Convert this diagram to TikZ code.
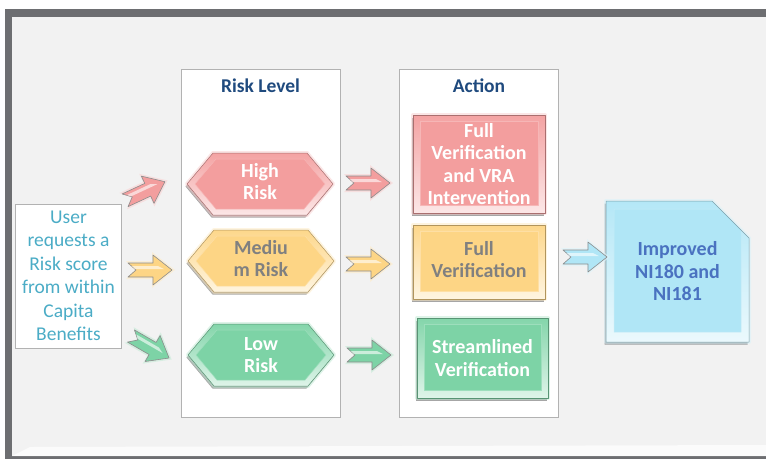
\documentclass[tikz,border=0pt]{standalone}
\usepackage{fontspec}
\setmainfont{Carlito}
\usetikzlibrary{shapes.symbols,shapes.misc,shadows}

\definecolor{rahmen}{HTML}{6D6E71}
\definecolor{grund}{HTML}{F2F2F2}
\definecolor{rotton}{HTML}{F39E9E}
\definecolor{gelbton}{HTML}{FDD585}
\definecolor{gruenton}{HTML}{7DD3A6}
\definecolor{blauton}{HTML}{B0E6F6}
\definecolor{titelblau}{HTML}{1F4A7E}
\definecolor{userblau}{HTML}{4BACC6}
\definecolor{nitext}{HTML}{4A72C0}

\newcommand\textoben[2]{\raisebox{#1}{\begin{tabular}{@{}c@{}}#2\end{tabular}}}

\tikzset{
	schrift/.style={font=\bfseries\fontsize{20}{22.5}\selectfont,align=center},
	spalte/.style={draw=black!30,fill=white,minimum width=159pt,minimum height=348pt,inner sep=0pt},
	titel/.style={font=\bfseries\fontsize{19.5}{22}\selectfont,text=titelblau},
	facette/.style={top color=#1!95!white,bottom color=#1!25!white,draw=#1!70!black,line width=0.5pt,line join=round,
		drop shadow={shadow xshift=-1.5pt,shadow yshift=-2.5pt,fill=black,opacity=0.35},
		preaction={draw=#1!50!white,line width=4pt,opacity=0.5}},
	stufe/.style={signal,signal to=east and west,signal pointer angle=100,minimum width=146pt,minimum height=62pt,inner sep=0pt,facette=#1,schrift,
		path picture={\fill[#1,draw=white!25!#1] ([xshift=8pt]path picture bounding box.west) -- ([xshift=29pt,yshift=-6pt]path picture bounding box.north west) -- ([xshift=-29pt,yshift=-6pt]path picture bounding box.north east) -- ([xshift=-8pt]path picture bounding box.east) -- ([xshift=-29pt,yshift=6pt]path picture bounding box.south east) -- ([xshift=29pt,yshift=6pt]path picture bounding box.south west) -- cycle;}},
	kasten/.style={rectangle,inner sep=0pt,facette=#1,schrift,
		path picture={\fill[#1,draw=white!25!#1] ([xshift=7pt,yshift=8pt]path picture bounding box.south west) rectangle ([xshift=-7pt,yshift=-6pt]path picture bounding box.north east);}},
	pics/pfeil/.style={code={
		\fill[#1!45!white,opacity=0.6,line join=round] (-24,-9) -- (2,-9) -- (2,-18) -- (25,0) -- (2,18) -- (2,9) -- (-24,9) -- (-15,0) -- cycle;
		\filldraw[fill=#1,draw=black!45,line width=0.6pt,line join=round] (-22,-7) -- (3,-7) -- (3,-15) -- (22,0) -- (3,15) -- (3,7) -- (-22,7) -- (-14,0) -- cycle;
		\fill[white,opacity=0.6] (-18,-4) -- (8,-4) -- (14,-1) -- (-15,-1) -- cycle;
	}}
}

\begin{document}
\begin{tikzpicture}[x=1pt,y=-1pt]
	\useasboundingbox (0,0) rectangle (766,459);
	%Rahmen
	\fill[white] (0,0) rectangle (766,459);
	\fill[rahmen] (5,9) rectangle (766,459);
	\fill[grund] (12,17) rectangle (766,456);
	\fill[white,opacity=0.7] (12,456) -- (30,447) -- (766,445) -- (766,456) -- cycle;
	%Spalten
	\node[spalte] (risk) at (260.5,243) {};
	\node[spalte] (action) at (479,243) {};
	\node[titel] (risktitel) at (260.5,86) {Risk Level};
	\node[titel] (actiontitel) at (479,86) {Action};
	%Anfrage
	\node[draw=black!30,fill=white,minimum width=106pt,minimum height=144pt,inner sep=0pt,text=userblau,font=\fontsize{19.5}{23.5}\selectfont,align=center] (user) at (68.5,276) {User\\requests a\\Risk score\\from within\\Capita\\Benefits};
	%Risikostufen
	\node[stufe=rotton,text=white] (high) at (260,184) {\textoben{6pt}{High\\Risk}};
	\node[stufe=gelbton,text=black!50] (medium) at (261,261) {\textoben{3pt}{Mediu\\m Risk}};
	\node[stufe=gruenton,text=white] (low) at (261,355) {Low\\Risk};
	%Massnahmen
	\node[kasten=rotton,text=white,minimum width=132pt,minimum height=98pt] (fullvra) at (479,164) {Full\\Verification\\and VRA\\Intervention};
	\node[kasten=gelbton,text=black!50,minimum width=132pt,minimum height=74pt] (fullver) at (479,262) {\textoben{11pt}{Full\\Verification}};
	\node[kasten=gruenton,text=white,minimum width=131pt,minimum height=80pt] (stream) at (482.5,358) {Streamlined\\Verification};
	%Ergebnis
	\node[chamfered rectangle,chamfered rectangle corners=north east,chamfered rectangle xsep=16pt,chamfered rectangle ysep=21pt,minimum width=143pt,minimum height=141pt,inner sep=0pt,facette=blauton,schrift,text=nitext,
		path picture={\fill[blauton,draw=white!25!blauton] ([xshift=8pt,yshift=10pt]path picture bounding box.south west) -- ([xshift=8pt,yshift=-8pt]path picture bounding box.north west) -- ([xshift=-22pt,yshift=-8pt]path picture bounding box.north east) -- ([xshift=-8pt,yshift=-27pt]path picture bounding box.north east) -- ([xshift=-8pt,yshift=10pt]path picture bounding box.south east) -- cycle;}] (improved) at (677.5,271.5) {Improved\\NI180 and\\NI181};
	%Pfeile
	\pic[rotate=25] (p1) at (145,191) {pfeil=rotton};
	\pic (p2) at (150,270) {pfeil=gelbton};
	\pic[rotate=-30] (p3) at (150,347) {pfeil=gruenton};
	\pic (p4) at (368,183) {pfeil=rotton};
	\pic (p5) at (368,264) {pfeil=gelbton};
	\pic (p6) at (369,355) {pfeil=gruenton};
	\pic (p7) at (585,257) {pfeil=blauton};
\end{tikzpicture}
\end{document}
